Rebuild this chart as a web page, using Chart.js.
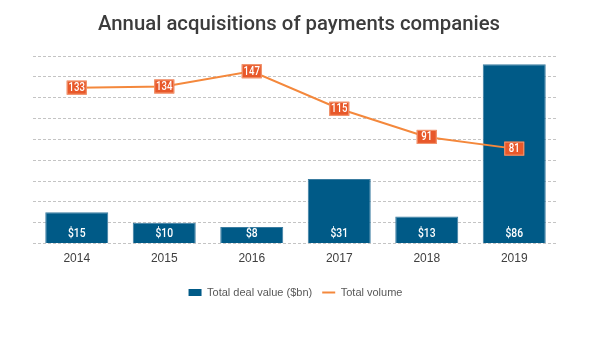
<!DOCTYPE html>
<html>
<head>
<meta charset="utf-8">
<script src="https://cdn.jsdelivr.net/npm/chart.js@4"></script>
<style>
  html, body { margin: 0; padding: 0; background: #fff; }
  #wrap { width: 600px; height: 340px; }
</style>
</head>
<body>
<div id="wrap"><canvas id="chart"></canvas></div>
<script>
// Years and the two series
const years = ['2014', '2015', '2016', '2017', '2018', '2019'];
const dealValue = [15, 10, 8, 31, 13, 86];      // $bn
const dealVolume = [133, 134, 147, 115, 91, 81]; // number of deals

const titulo = 'Annual acquisitions of payments companies';
const azul = '#005a87';
const laranja = '#f4883c';
const laranjaCaixa = '#e8582a';
const sans = '"Liberation Sans", Arial, sans-serif';

// Narrow-looking text: squeeze a normal face horizontally
function textoEstreito(ctx, txt, x, y, escala) {
    ctx.save();
    ctx.translate(x, y);
    ctx.scale(escala, 1);
    ctx.fillText(txt, 0, 0);
    ctx.restore();
}

// Title plus value labels (bar feet and boxed line points)
const rotulos = {
    id: 'rotulos',
    afterDatasetsDraw(chart) {
        const ctx = chart.ctx;
        ctx.save();
        ctx.textAlign = 'center';
        ctx.textBaseline = 'middle';

        const barras = chart.getDatasetMeta(0);
        ctx.font = '500 12px Roboto, sans-serif';
        ctx.fillStyle = '#ffffff';
        barras.data.forEach((el, i) => {
            textoEstreito(ctx, '$' + dealValue[i], el.x, el.base - 9, 0.86);
        });

        const linha = chart.getDatasetMeta(1);
        linha.data.forEach((pt, i) => {
            const w = 20, h = 14;
            ctx.fillStyle = laranjaCaixa;
            ctx.fillRect(pt.x - w / 2, pt.y - h / 2, w, h);
            ctx.strokeStyle = '#f29a74';
            ctx.lineWidth = 1;
            ctx.strokeRect(pt.x - w / 2 + 0.5, pt.y - h / 2 + 0.5, w - 1, h - 1);
            ctx.fillStyle = '#ffffff';
            textoEstreito(ctx, String(dealVolume[i]), pt.x, pt.y + 0.5, 0.8);
        });
        ctx.restore();
    },
    afterDraw(chart) {
        const ctx = chart.ctx;
        ctx.save();
        ctx.font = '500 21px Roboto, sans-serif';
        ctx.fillStyle = '#3c3c3c';
        ctx.textAlign = 'center';
        ctx.textBaseline = 'alphabetic';
        const escala = 402 / ctx.measureText(titulo).width;
        textoEstreito(ctx, titulo, 299, 30, escala);
        ctx.restore();
    }
};

new Chart(document.getElementById('chart'), {
    type: 'bar',
    data: {
        labels: years,
        datasets: [
            {
                type: 'bar',
                label: 'Total deal value ($bn)',
                data: dealValue,
                backgroundColor: azul,
                borderColor: '#3a7ca0',
                borderWidth: 1,
                categoryPercentage: 0.8,
                barPercentage: 0.9,
                yAxisID: 'y',
                order: 1
            },
            {
                type: 'line',
                label: 'Total volume',
                data: dealVolume,
                borderColor: laranja,
                backgroundColor: laranja,
                borderWidth: 2,
                pointRadius: 0,
                tension: 0,
                yAxisID: 'y1',
                order: 0
            }
        ]
    },
    options: {
        responsive: true,
        maintainAspectRatio: false,
        animation: false,
        layout: { padding: { left: 33, right: 42, top: 56, bottom: 32 } },
        plugins: {
            title: { display: false },
            legend: {
                position: 'bottom',
                labels: {
                    sort: (a, b) => a.datasetIndex - b.datasetIndex,
                    usePointStyle: true,
                    pointStyleWidth: 13,
                    boxHeight: 7,
                    color: '#595959',
                    font: { family: sans, size: 11 },
                    padding: 10,
                    generateLabels(chart) {
                        return chart.data.datasets.map((ds, i) => ({
                            text: ds.label,
                            datasetIndex: i,
                            fillStyle: ds.type === 'bar' ? azul : laranja,
                            strokeStyle: ds.type === 'bar' ? azul : laranja,
                            lineWidth: ds.type === 'bar' ? 0 : 2,
                            pointStyle: ds.type === 'bar' ? 'rect' : 'line',
                            fontColor: '#595959',
                            hidden: false
                        }));
                    }
                }
            },
            tooltip: { enabled: false }
        },
        scales: {
            x: {
                grid: { display: false, drawTicks: false },
                border: { display: false },
                ticks: {
                    color: '#404040',
                    font: { family: sans, size: 12 },
                    padding: 8
                },
                afterFit(scale) { scale.height += 3; }
            },
            y: {
                min: 0,
                max: 90,
                ticks: { stepSize: 10, display: false },
                border: { display: false, dash: [3, 2] },
                grid: { color: '#c4c4c4', lineWidth: 1, drawTicks: false }
            },
            y1: {
                min: 0,
                max: 160,
                display: false
            }
        }
    },
    plugins: [rotulos]
});
</script>
</body>
</html>
